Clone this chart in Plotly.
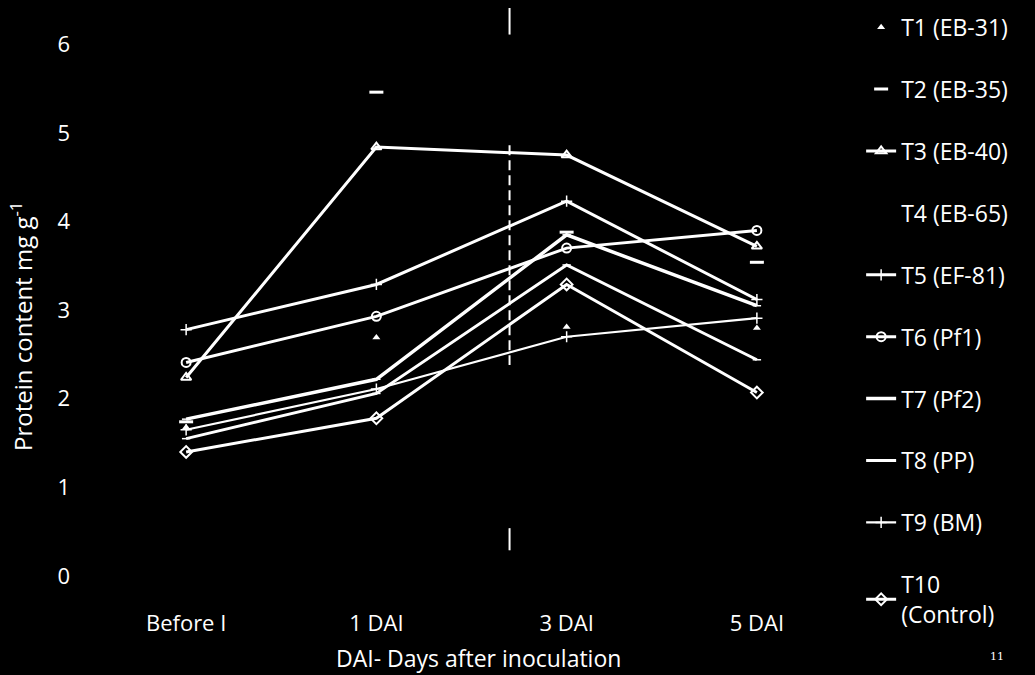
import plotly.graph_objects as go

# Sampling points and treatment series (protein content, mg g-1)
stages = ["Before I", "1 DAI", "3 DAI", "5 DAI"]

t1_eb31 = [1.68, 2.69, 2.81, 2.80]
t2_eb35 = [1.74, 5.46, 3.88, 3.54]
t3_eb40 = [2.24, 4.84, 4.75, 3.72]
t4_eb65 = [1.62, 2.30, 3.40, 2.70]
t5_ef81 = [2.78, 3.29, 4.23, 3.12]
t6_pf1 = [2.41, 2.93, 3.70, 3.90]
t7_pf2 = [1.77, 2.22, 3.85, 3.05]
t8_pp = [1.55, 2.06, 3.51, 2.44]
t9_bm = [1.65, 2.11, 2.70, 2.91]
t10_ctrl = [1.40, 1.78, 3.29, 2.07]

names = ["T1 (EB-31)", "T2 (EB-35)", "T3 (EB-40)", "T4 (EB-65)", "T5 (EF-81)",
         "T6 (Pf1)", "T7 (Pf2)", "T8 (PP)", "T9 (BM)", "T10<br>(Control)"]

y_ticks = [0, 1, 2, 3, 4, 5, 6]

FONT = "Open Sans"
WHITE = "#ffffff"
BLACK = "#000000"

fig = go.Figure()

# Series whose lines vanish on the dark background: only their markers show
hidden = [
    (t1_eb31, names[0], dict(symbol="triangle-up", size=7, color=WHITE)),
    (t2_eb35, names[1], dict(symbol="line-ew", size=10, color=WHITE,
                             line=dict(width=3, color=WHITE))),
    (t4_eb65, names[3], dict(size=1, color=BLACK)),
]
for vals, nm, mk in hidden:
    fig.add_trace(go.Scatter(
        x=stages, y=vals, name=nm, mode="lines+markers",
        line=dict(color=BLACK, width=3), marker=mk,
        legendgroup=nm, legendrank=names.index(nm)))

visible = [
    (t3_eb40, names[2], 3, dict(symbol="triangle-up-open", size=9, color=WHITE,
                                line=dict(width=2, color=WHITE))),
    (t5_ef81, names[4], 3, dict(symbol="cross-thin", size=8, color=WHITE,
                                line=dict(width=1.5, color=WHITE))),
    (t6_pf1, names[5], 3, dict(symbol="circle-open", size=9, color=WHITE,
                               line=dict(width=2, color=WHITE))),
    (t7_pf2, names[6], 3.5, dict(symbol="line-ew", size=6, color=WHITE,
                                 line=dict(width=1.5, color=WHITE))),
    (t8_pp, names[7], 3, dict(symbol="line-ew", size=6, color=WHITE,
                              line=dict(width=1.5, color=WHITE))),
    (t9_bm, names[8], 2.2, dict(symbol="cross-thin", size=8, color=WHITE,
                                line=dict(width=1.5, color=WHITE))),
    (t10_ctrl, names[9], 3, dict(symbol="diamond-open", size=9, color=WHITE,
                                 line=dict(width=2, color=WHITE))),
]
for vals, nm, w, mk in visible:
    fig.add_trace(go.Scatter(
        x=stages, y=vals, name=nm, mode="lines+markers",
        line=dict(color=WHITE, width=w), marker=mk,
        legendgroup=nm, legendrank=names.index(nm)))

# Faint broken vertical guide running through the plot
guide_x = 1.70
for y0, y1, dash in [(6.41, 6.11, "solid"), (4.86, 2.38, "10px,5px"),
                     (0.54, 0.29, "solid"), (-0.01, -0.03, "solid")]:
    fig.add_shape(type="line", xref="x", yref="y", x0=guide_x, x1=guide_x,
                  y0=y0, y1=y1, line=dict(color=WHITE, width=2, dash=dash))

fig.add_annotation(text="Protein content mg g<sup>-1</sup>", textangle=-90,
                   xref="paper", yref="paper", x=-0.092, y=0.434,
                   xanchor="center", yanchor="middle", showarrow=False,
                   font=dict(family=FONT, size=24, color=WHITE))
fig.add_annotation(text="DAI- Days after inoculation",
                   xref="paper", yref="paper", x=0.509, y=-0.143,
                   xanchor="center", yanchor="middle", showarrow=False,
                   font=dict(family=FONT, size=23, color=WHITE))
fig.add_annotation(text="11", xref="paper", yref="paper", x=1.19, y=-0.14,
                   xanchor="center", yanchor="middle", showarrow=False,
                   font=dict(family="DejaVu Serif", size=11, color=WHITE))

fig.update_layout(
    width=1035, height=675,
    paper_bgcolor=BLACK, plot_bgcolor=BLACK,
    margin=dict(l=91, r=183, t=0, b=99),
    font=dict(family=FONT, size=22, color=WHITE),
    showlegend=True,
    legend=dict(x=1.012, y=0.99, xanchor="left", yanchor="top",
                bgcolor="rgba(0,0,0,0)", traceorder="grouped",
                tracegroupgap=29, maxheight=675, itemwidth=30,
                font=dict(family=FONT, size=23, color=WHITE)),
    xaxis=dict(categoryorder="array", categoryarray=stages,
               range=[-0.5, 3.5], showgrid=False, zeroline=False,
               showline=False, ticks="", ticklabelstandoff=32,
               tickfont=dict(family=FONT, size=22, color=WHITE)),
    yaxis=dict(range=[0, 6.5], tickvals=y_ticks, showgrid=False,
               zeroline=False, showline=False, ticks="",
               ticklabelstandoff=20,
               tickfont=dict(family=FONT, size=22, color=WHITE)),
)

fig.write_html("out.html")
